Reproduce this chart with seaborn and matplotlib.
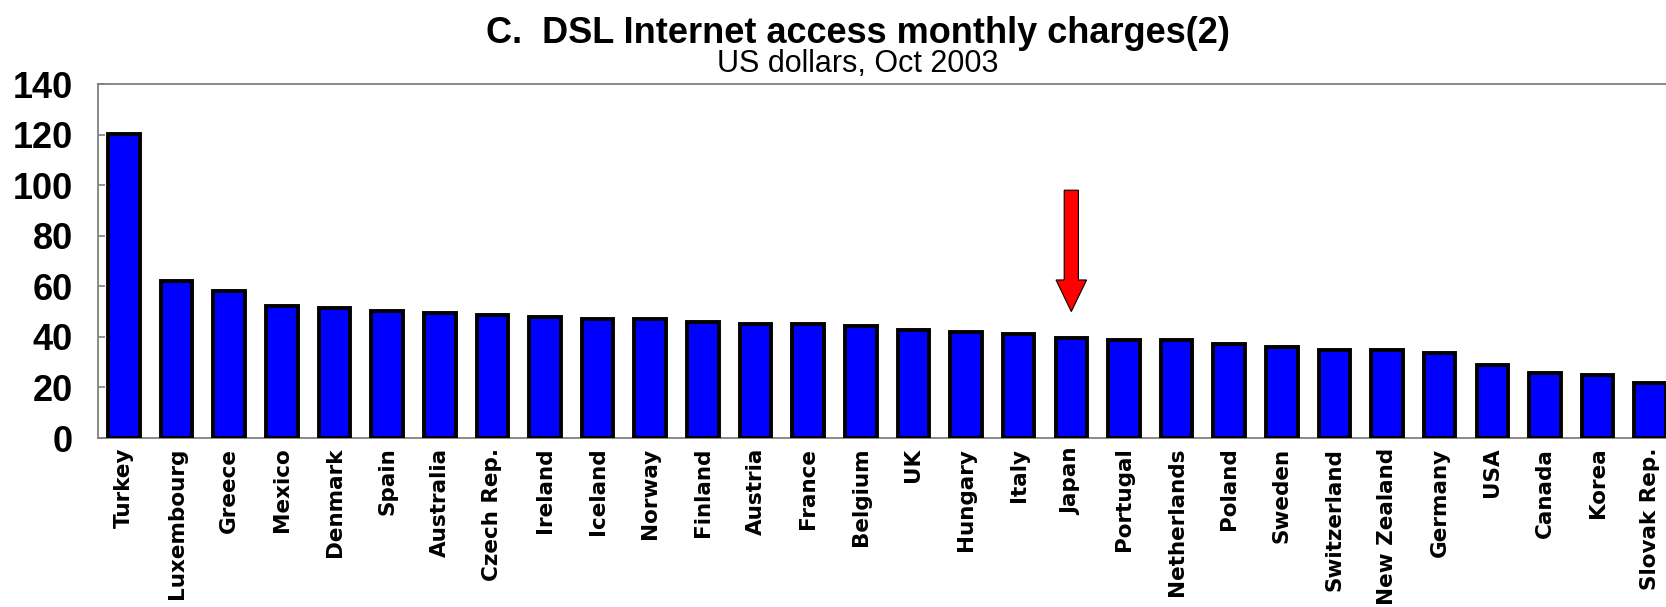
import matplotlib
matplotlib.use("Agg")
import matplotlib.pyplot as plt
import seaborn as sns
import pandas as pd

countries = ["Turkey", "Luxembourg", "Greece", "Mexico", "Denmark", "Spain",
             "Australia", "Czech Rep.", "Ireland", "Iceland", "Norway", "Finland",
             "Austria", "France", "Belgium", "UK", "Hungary", "Italy", "Japan",
             "Portugal", "Netherlands", "Poland", "Sweden", "Switzerland",
             "New Zealand", "Germany", "USA", "Canada", "Korea", "Slovak Rep."]
charges = [120.3, 61.9, 58.3, 52.3, 51.6, 50.3, 49.3, 48.7, 47.9, 47.1,
           47.1, 45.8, 45.0, 45.0, 44.4, 42.8, 42.1, 41.3, 39.7, 38.8,
           38.8, 37.2, 35.8, 34.9, 34.9, 33.5, 28.9, 25.9, 25.0, 21.9]
yticks = [0, 20, 40, 60, 80, 100, 120, 140]
highlight = "Japan"
arrow_top, arrow_tip = 98, 50

title = "C.  DSL Internet access monthly charges(2)"
subtitle = "US dollars, Oct 2003"

df = pd.DataFrame({"country": countries, "charge": charges})

sns.set_style("white")
plt.rcParams["font.family"] = ["Liberation Sans", "DejaVu Sans"]
plt.rcParams["text.color"] = "black"
plt.rcParams["xtick.color"] = "black"
plt.rcParams["ytick.color"] = "black"

W, H = 1666, 607
fig = plt.figure(figsize=(W / 100, H / 100), dpi=100)
ax = fig.add_axes([98 / W, 1 - 438 / H, (W - 98) / W, (438 - 84) / H])

sns.barplot(data=df, x="country", y="charge", color="#0000FF", saturation=1,
            edgecolor="black", linewidth=2.8, width=0.6, ax=ax, zorder=3)

ax.set_xlim(-0.494, 29.30)
ax.set_ylim(0, 140)
ax.set_yticks(yticks)
ax.set_yticklabels([str(t) for t in yticks], fontsize=26, fontweight="bold",
                   family=["Liberation Sans", "DejaVu Sans"], color="black")
ax.set_xlabel("")
ax.set_ylabel("")
ax.tick_params(axis="y", direction="in", length=5, width=1.2, color="#808080",
               labelcolor="black", pad=18, left=True)
ax.tick_params(axis="x", length=0, pad=7, labelcolor="black")
for lab in ax.get_xticklabels():
    lab.set_rotation(90)
    lab.set_fontsize(15.5)
    lab.set_fontweight("bold")
    lab.set_family("DejaVu Sans")
    lab.set_color("black")
    lab.set_va("top")
    lab.set_ha("center")

for side in ["left", "top", "bottom"]:
    ax.spines[side].set_color("#808080")
    ax.spines[side].set_linewidth(1.3)
ax.spines["right"].set_visible(False)
ax.grid(False)

ji = countries.index(highlight)
ax.arrow(ji, arrow_top, 0, arrow_tip - arrow_top, width=0.27, head_width=0.58,
         head_length=12.5, length_includes_head=True, fc="#FF0000", ec="black",
         lw=0.8, zorder=5)

fig.text(858 / W, 1 - 43 / H, title, ha="center", va="baseline",
         fontsize=26, fontweight="bold", color="black")
fig.text(858 / W, 1 - 72 / H, subtitle, ha="center", va="baseline",
         fontsize=22, color="black")

fig.savefig("out.png", dpi=100)
